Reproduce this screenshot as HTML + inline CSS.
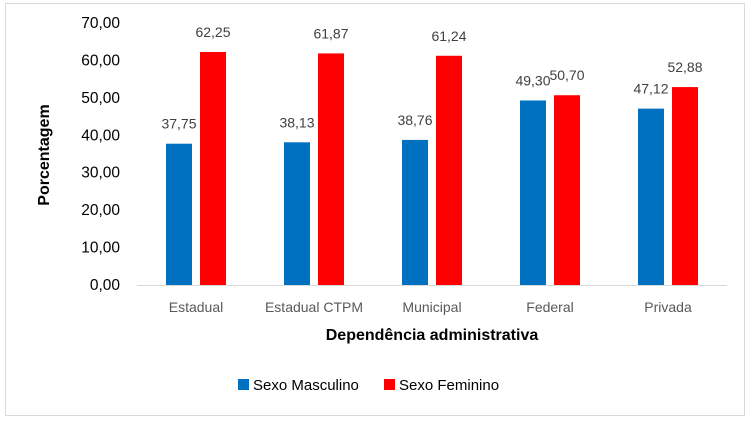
<!DOCTYPE html>
<html><head><meta charset="utf-8"><style>
body{margin:0;background:#fff;font-family:"Liberation Sans",sans-serif}
svg text{font-family:"Liberation Sans",sans-serif}
</style></head><body>
<svg width="750" height="422">
<rect x="5.5" y="3.5" width="739" height="412" fill="#fff" stroke="#d9d9d9"/>
<g id="g"></g>
<text x="49" y="155" transform="rotate(-90 49 155)" text-anchor="middle" font-size="16" font-weight="bold" fill="#000">Porcentagem</text>
<text x="432" y="340" text-anchor="middle" font-size="16" font-weight="bold" fill="#000">Dependência administrativa</text>
<rect x="238" y="379" width="11" height="11" fill="#0070c0"/>
<text x="253" y="390" font-size="15" fill="#000">Sexo Masculino</text>
<rect x="384" y="379" width="11" height="11" fill="#ff0000"/>
<text x="399" y="390" font-size="15" fill="#000">Sexo Feminino</text>
</svg>
<script>
const categories=["Estadual","Estadual CTPM","Municipal","Federal","Privada"];
const masculino=[37.75,38.13,38.76,49.30,47.12];
const feminino=[62.25,61.87,61.24,50.70,52.88];
const yTicks=[0,10,20,30,40,50,60,70];
const NS="http://www.w3.org/2000/svg";
const g=document.getElementById('g');
const x0=137,x1=727,y0=285,yTop=23,yMax=70;
const y=v=>y0-(v/yMax)*(y0-yTop);
const bw=(x1-x0)/categories.length;
const cx=i=>x0+bw*(i+0.5);
const fmt=v=>v.toFixed(2).replace('.',',');
function mk(t,a,txt){const e=document.createElementNS(NS,t);for(const k in a)e.setAttribute(k,a[k]);if(txt!=null)e.textContent=txt;g.appendChild(e);return e;}
yTicks.forEach(v=>{
 const t=mk('text',{x:120,y:y(v)+5,'text-anchor':'end','font-size':15.5,fill:'#000'},fmt(v));
 
 
});
const ax=mk('line',{x1:x0,x2:x1,y1:y0+0.5,y2:y0+0.5,stroke:'#d9d9d9'});


categories.forEach((c,i)=>{
 const t=mk('text',{x:cx(i),y:312,'text-anchor':'middle','font-size':14,fill:'#595959'},c);
 
 
 [[masculino[i],'#0070c0',-30,'bar-masculino'],[feminino[i],'#ff0000',4,'bar-feminino']].forEach(([v,col,off,nm])=>{
  const r=mk('rect',{x:cx(i)+off,y:y(v),width:26,height:y0-y(v),fill:col});
  
  
  const l=mk('text',{x:cx(i)+off+13,y:y(v)-15,'text-anchor':'middle','font-size':14,fill:'#404040'},fmt(v));
  
  
 });
});
</script>
</body></html>
